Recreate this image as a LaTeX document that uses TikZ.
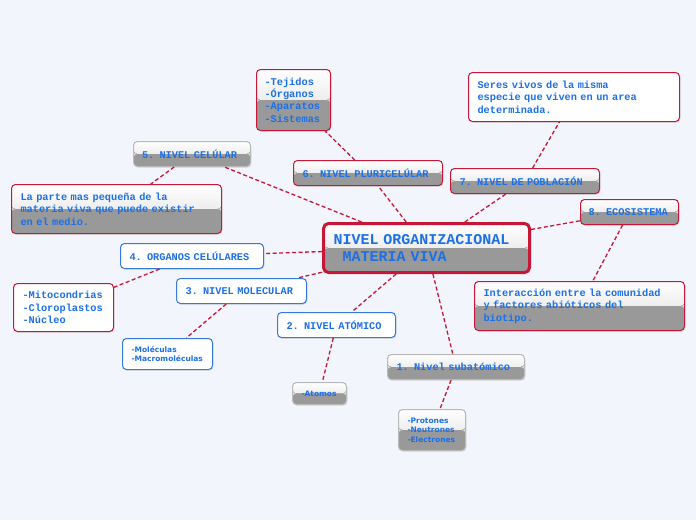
\documentclass[tikz,border=0pt]{standalone}
\usepackage{fontspec}
\setmonofont{Liberation Mono}[WordSpace={1,0,0}, PunctuationSpace=WordSpace]
\newfontfamily\labelsans{DejaVu Sans}
\newcommand\fixedspaces{\spaceskip=0.6em\relax\xspaceskip=0.6em\relax}
\usetikzlibrary{shadows}
\definecolor{bgc}{RGB}{243,245,253}
\definecolor{linkred}{RGB}{200,22,54}
\definecolor{textblue}{RGB}{28,112,230}
\definecolor{edgeblue}{RGB}{52,122,222}
\definecolor{edgegray}{RGB}{185,185,185}

\begin{document}
\begin{tikzpicture}[x=1pt, y=-1pt,
  box/.style={draw=#1, line width=1pt, rounded corners=4pt, anchor=north west,
    align=left, inner xsep=9pt, inner ysep=0pt, text=textblue,
    font=\ttfamily\bfseries\fontsize{10.3}{12.4}\selectfont\fixedspaces,
    drop shadow={shadow xshift=0.8pt, shadow yshift=-1.2pt, opacity=0.25}},
  glossy/.style={box=#1, path picture={
    \fill[top color=white, bottom color=black!14]
      (path picture bounding box.north west) rectangle (path picture bounding box.east);
    \fill[black!40]
      (path picture bounding box.west) rectangle (path picture bounding box.south east);}},
  whitebox/.style={box=#1, fill=white},
  sanstext/.style={font=\labelsans\bfseries\fontsize{7.5}{9.5}\selectfont},
  link/.style={draw=linkred, line width=1.3pt, dash pattern=on 4pt off 2.5pt}]
  % Canvas
  \useasboundingbox[fill=bgc] (0,0) rectangle (696,520);
  % Central topic
  \node[glossy=linkred, line width=3pt, rounded corners=5pt, inner xsep=10pt,
    minimum width=206pt, minimum height=49pt, text width=186pt,
    font=\ttfamily\bfseries\fontsize{15}{17}\selectfont\fixedspaces] (main) at (322,222)
    {NIVEL ORGANIZACIONAL\\\phantom{M}MATERIA VIVA};
  % Levels
  \node[glossy=edgegray, minimum width=137pt, minimum height=25pt, text width=119pt] (n1) at (387,354) {1. Nivel subatómico};
  \node[whitebox=edgeblue, minimum width=118pt, minimum height=25pt, text width=100pt] (n2) at (277,312) {2. NIVEL ATÓMICO};
  \node[whitebox=edgeblue, minimum width=130pt, minimum height=25pt, text width=112pt] (n3) at (176,278) {3. NIVEL MOLECULAR};
  \node[whitebox=edgeblue, minimum width=143pt, minimum height=25pt, text width=125pt] (n4) at (120,243) {4. ORGANOS CELÚLARES};
  \node[glossy=edgegray, inner xsep=8.5pt, minimum width=117pt, minimum height=25pt, text width=100pt] (n5) at (133,141) {5. NIVEL CELÚLAR};
  \node[glossy=linkred, minimum width=149pt, minimum height=25pt, text width=131pt] (n6) at (293,160) {6. NIVEL PLURICELÚLAR};
  \node[glossy=linkred, minimum width=149pt, minimum height=25pt, text width=131pt] (n7) at (450,168) {7. NIVEL DE POBLACIÓN};
  \node[glossy=linkred, inner xsep=8pt, minimum width=98pt, minimum height=25pt, text width=82pt] (n8) at (580,199) {8. ECOSISTEMA};
  % Details
  \node[glossy=edgegray, sanstext, minimum width=67pt, minimum height=41pt, text width=49pt] (protones) at (398,409) {-Protones\\-Neutrones\\-Electrones};
  \node[glossy=edgegray, sanstext, minimum width=54pt, minimum height=22pt, text width=36pt] (atomos) at (292,382) {-Atomos};
  \node[whitebox=edgeblue, sanstext, minimum width=90pt, minimum height=31pt, text width=72pt] (moleculas) at (122,338) {-Moléculas\\-Macromoléculas};
  \node[whitebox=linkred, minimum width=100pt, minimum height=48pt, text width=82pt] (organelos) at (13,283) {-Mitocondrias\\-Cloroplastos\\-Núcleo};
  \node[glossy=linkred, minimum width=210pt, minimum height=49pt, text width=192pt] (celula) at (11,184)
    {La parte mas pequeña de la\\materia viva que puede existir\\en el medio.};
  \node[glossy=linkred, inner xsep=8pt, minimum width=74pt, minimum height=61pt, text width=58pt] (tejidos) at (256,69)
    {-Tejidos\\-Órganos\\-Aparatos\\-Sistemas};
  \node[whitebox=linkred, minimum width=211pt, minimum height=49pt, text width=193pt] (poblacion) at (468,72)
    {Seres vivos de la misma\\especie que viven en un area\\determinada.};
  \node[glossy=linkred, minimum width=210pt, minimum height=49pt, text width=192pt] (ecosistema) at (474,281)
    {Interacción entre la comunidad\\y factores abióticos del\\biotipo.};
  % Connectors
  \foreach \lvl in {n1,n2,n3,n4,n5,n6,n7,n8}
    \draw[link] (main) -- (\lvl);
  \draw[link] (n1) -- (protones);
  \draw[link] (n2) -- (atomos);
  \draw[link] (n3) -- (moleculas);
  \draw[link] (n4) -- (organelos);
  \draw[link] (n5) -- (celula);
  \draw[link] (n6) -- (tejidos);
  \draw[link] (n7) -- (poblacion);
  \draw[link] (n8) -- (ecosistema);
\end{tikzpicture}
\end{document}
